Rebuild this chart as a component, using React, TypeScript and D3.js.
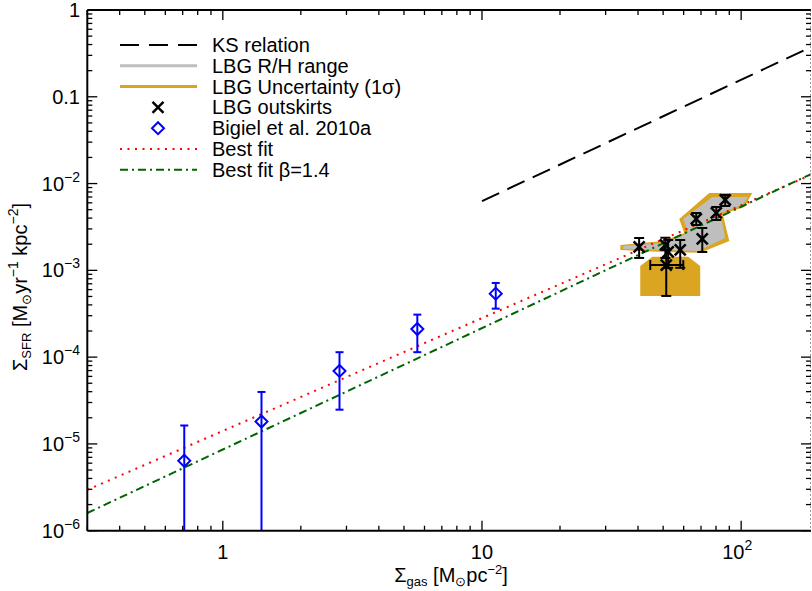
import React from 'react';
import * as d3 from 'd3';

const W = 812;
const H = 591;
const PLOT = { left: 87.3, right: 811, top: 10, bottom: 530.7 };

const xDomain = [0.3, 186];
const yDomain = [1e-6, 1];

const xTickValues = [1, 10, 100];
const xTickBase = ['1', '10', '10'];
const xTickSup = ['', '', '2'];
const yTickValues = [1, 0.1, 1e-2, 1e-3, 1e-4, 1e-5, 1e-6];
const yTickBase = ['1', '0.1', '10', '10', '10', '10', '10'];
const yTickSup = ['', '', '−2', '−3', '−4', '−5', '−6'];

// Bigiel et al. 2010a
const bigielGas = [0.71, 1.41, 2.82, 5.63, 11.3];
const bigielSfr = [6.4e-6, 1.81e-5, 6.93e-5, 2.11e-4, 5.39e-4];
const bigielHi = [1.63e-5, 3.97e-5, 1.14e-4, 3.09e-4, 7.16e-4];
const bigielLo = [1e-8, 1e-8, 2.48e-5, 1.14e-4, 3.62e-4];

// LBG outskirts
const lbgGas = [40.4, 51.0, 52.3, 58.2, 51.4, 70.8, 67.1, 80.2, 86.8];
const lbgSfr = [1.86e-3, 1.96e-3, 1.63e-3, 1.72e-3, 1.15e-3, 2.3e-3, 3.91e-3, 4.59e-3, 6.47e-3];
const lbgSfrHi = [2.36e-3, 2.37e-3, 2.24e-3, 2.24e-3, 1.72e-3, 3.08e-3, 4.59e-3, 5.37e-3, 7.39e-3];
const lbgSfrLo = [1.39e-3, 1.39e-3, 1.07e-3, 1.07e-3, 5.07e-4, 1.63e-3, 3.33e-3, 3.81e-3, 5.52e-3];
const lbgGasLo = [null, null, null, null, 44.6, null, null, null, null];
const lbgGasHi = [null, null, null, null, 59.8, null, null, null, null];

// LBG R/H range (grey) and uncertainty (gold) regions, [gas, sfr]
const rhRange: [number, number][] = [
  [35.1, 1.91e-3], [50.1, 2.07e-3], [62.5, 2.7e-3], [59.8, 3.91e-3], [77.4, 7.01e-3],
  [106.5, 7.01e-3], [101.0, 5.67e-3], [83.1, 4.59e-3], [86.8, 2.36e-3], [68.3, 1.67e-3],
  [50.1, 1.72e-3], [35.1, 1.76e-3],
];
const uncRange: [number, number][] = [
  [34.2, 1.96e-3], [50.1, 2.18e-3], [60.3, 2.7e-3], [57.7, 3.91e-3], [75.3, 7.79e-3],
  [110.4, 7.79e-3], [102.8, 5.37e-3], [84.9, 4.47e-3], [90.0, 2.18e-3], [69.5, 1.59e-3],
  [50.1, 1.63e-3], [34.2, 1.72e-3],
];
const uncBlock: [number, number][] = [
  [40.8, 1.12e-3], [45.4, 1.43e-3], [62.5, 1.43e-3], [69.5, 1.12e-3], [69.5, 5.07e-4], [40.8, 5.07e-4],
];

// relations (end points)
const ksLine: [number, number][] = [[10, 6.28e-3], [186, 0.374]];
const bestFit: [number, number][] = [[0.3, 2.95e-6], [186, 0.0126]];
const bestFit14: [number, number][] = [[0.3, 1.6e-6], [186, 0.01287]];

const legendLabels = [
  'KS relation',
  'LBG R/H range',
  'LBG Uncertainty (1σ)',
  'LBG outskirts',
  'Bigiel et al. 2010a',
  'Best fit',
  'Best fit β=1.4',
];

const FONT = "'Liberation Sans', Arial, Helvetica, sans-serif";
const GOLD = '#daa520';
const GREY = '#bebebe';
const GREEN = '#006400';

export default function App() {
  const x = d3.scaleLog().domain(xDomain).range([PLOT.left, PLOT.right]);
  const y = d3.scaleLog().domain(yDomain).range([PLOT.bottom, PLOT.top]);
  const line = d3.line<[number, number]>().x(d => x(d[0])).y(d => y(d[1]));

  const xMinor: number[] = [];
  for (let e = -1; e <= 2; e++) for (let m = 1; m <= 9; m++) {
    const v = m * Math.pow(10, e);
    if (v >= xDomain[0] && v <= xDomain[1] && m !== 1) xMinor.push(v);
  }
  const yMinor: number[] = [];
  for (let e = -6; e < 0; e++) for (let m = 2; m <= 9; m++) yMinor.push(m * Math.pow(10, e));

  const MAJ = 10, MIN = 5;
  const legendY = (i: number) => 45 + i * 20.8;

  const xMark = (cx: number, cy: number, s: number, key: string) => (
    <g key={key} stroke="black" strokeWidth={2.5}>
      <line x1={cx - s} y1={cy - s} x2={cx + s} y2={cy + s} />
      <line x1={cx - s} y1={cy + s} x2={cx + s} y2={cy - s} />
    </g>
  );
  const diamond = (cx: number, cy: number, key: string) => (
    <path key={key} d={`M${cx},${cy - 6}L${cx + 6},${cy}L${cx},${cy + 6}L${cx - 6},${cy}Z`} fill="none" stroke="#0000ff" strokeWidth={2} />
  );

  return (
    <svg width={W} height={H} style={{ position: 'absolute', left: 0, top: 0, background: 'white' }} fontFamily={FONT}>
      <defs>
        <clipPath id="plotclip">
          <rect x={PLOT.left} y={PLOT.top} width={PLOT.right - PLOT.left} height={PLOT.bottom - PLOT.top} />
        </clipPath>
      </defs>
      <rect x={0} y={0} width={W} height={H} fill="white" />

      <g clipPath="url(#plotclip)">
        {/* uncertainty + range regions */}
        <path d={line(uncBlock) + 'Z'} fill={GOLD} />
        <path d={line(uncRange) + 'Z'} fill={GOLD} />
        <path d={line(rhRange) + 'Z'} fill={GREY} />

        {/* relations */}
        <path d={line(ksLine)!} fill="none" stroke="black" strokeWidth={2} strokeDasharray="19,9" />
        <path d={line(bestFit)!} fill="none" stroke="#ff0000" strokeWidth={2} strokeDasharray="2,5.5" />
        <path d={line(bestFit14)!} fill="none" stroke={GREEN} strokeWidth={2} strokeDasharray="8,4,2,4" />

        {/* Bigiel points */}
        {bigielGas.map((g, i) => {
          const cx = x(g);
          const yHi = y(bigielHi[i]);
          const yLo = y(bigielLo[i]);
          return (
            <g key={'b' + i} stroke="#0000ff" strokeWidth={2}>
              <line x1={cx} x2={cx} y1={yHi} y2={yLo} />
              <line x1={cx - 4} x2={cx + 4} y1={yHi} y2={yHi} />
              <line x1={cx - 4} x2={cx + 4} y1={yLo} y2={yLo} />
            </g>
          );
        })}
        {bigielGas.map((g, i) => diamond(x(g), y(bigielSfr[i]), 'bd' + i))}

        {/* LBG outskirts */}
        {lbgGas.map((g, i) => {
          const cx = x(g);
          const cy = y(lbgSfr[i]);
          const yHi = y(lbgSfrHi[i]);
          const yLo = y(lbgSfrLo[i]);
          const gl = lbgGasLo[i];
          const gh = lbgGasHi[i];
          return (
            <g key={'l' + i}>
              <g stroke="black" strokeWidth={2}>
                <line x1={cx} x2={cx} y1={yHi} y2={yLo} />
                <line x1={cx - 5} x2={cx + 5} y1={yHi} y2={yHi} />
                <line x1={cx - 5} x2={cx + 5} y1={yLo} y2={yLo} />
                {gl != null && gh != null && (
                  <>
                    <line x1={x(gl)} x2={x(gh)} y1={cy} y2={cy} />
                    <line x1={x(gl)} x2={x(gl)} y1={cy - 5} y2={cy + 5} />
                    <line x1={x(gh)} x2={x(gh)} y1={cy - 5} y2={cy + 5} />
                  </>
                )}
              </g>
              {xMark(cx, cy, 5.5, 'lx' + i)}
            </g>
          );
        })}
      </g>

      {/* axes frame */}
      <g stroke="black" strokeWidth={2} fill="none">
        <line x1={PLOT.left} x2={PLOT.right} y1={PLOT.bottom} y2={PLOT.bottom} />
        <line x1={PLOT.left} x2={PLOT.right} y1={PLOT.top} y2={PLOT.top} />
        <line x1={PLOT.left} x2={PLOT.left} y1={PLOT.top} y2={PLOT.bottom} />
      </g>
      <line x1={PLOT.right - 0.5} x2={PLOT.right - 0.5} y1={PLOT.top} y2={PLOT.bottom} stroke="#999" strokeWidth={1} strokeDasharray="2,2" />

      {/* ticks */}
      <g stroke="black" strokeWidth={1.3}>
        {xTickValues.map(v => (
          <g key={'xt' + v}>
            <line x1={x(v)} x2={x(v)} y1={PLOT.bottom} y2={PLOT.bottom - MAJ} />
            <line x1={x(v)} x2={x(v)} y1={PLOT.top} y2={PLOT.top + MAJ} />
          </g>
        ))}
        {xMinor.map(v => (
          <g key={'xm' + v}>
            <line x1={x(v)} x2={x(v)} y1={PLOT.bottom} y2={PLOT.bottom - MIN} />
            <line x1={x(v)} x2={x(v)} y1={PLOT.top} y2={PLOT.top + MIN} />
          </g>
        ))}
        {yTickValues.map(v => (
          <g key={'yt' + v}>
            <line x1={PLOT.left} x2={PLOT.left + MAJ} y1={y(v)} y2={y(v)} />
            <line x1={PLOT.right} x2={PLOT.right - MAJ} y1={y(v)} y2={y(v)} />
          </g>
        ))}
        {yMinor.map(v => (
          <g key={'ym' + v}>
            <line x1={PLOT.left} x2={PLOT.left + MIN} y1={y(v)} y2={y(v)} />
            <line x1={PLOT.right} x2={PLOT.right - MIN} y1={y(v)} y2={y(v)} />
          </g>
        ))}
      </g>

      {/* tick labels */}
      <g fontSize={20} fill="black">
        {xTickValues.map((v, i) => (
          <text key={'xl' + v} x={x(v) - (xTickSup[i] ? 4 : 0)} y={559} textAnchor="middle">
            {xTickBase[i]}
            {xTickSup[i] && <tspan fontSize={14} dy={-9}>{xTickSup[i]}</tspan>}
          </text>
        ))}
        {yTickValues.map((v, i) => (
          <text key={'yl' + v} x={80} y={y(v) + 7} textAnchor="end">
            {yTickBase[i]}
            {yTickSup[i] && <tspan fontSize={14} dy={-9}>{yTickSup[i]}</tspan>}
          </text>
        ))}
      </g>

      {/* axis titles */}
      <text x={451} y={582} textAnchor="middle" fontSize={20}>
        Σ<tspan fontSize={13} dy={4}>gas</tspan>
        <tspan dy={-4}> [M</tspan>
        <tspan fontSize={13} dy={4}>⊙</tspan>
        <tspan dy={-4}>pc</tspan>
        <tspan fontSize={13} dy={-8}>−2</tspan>
        <tspan dy={8}>]</tspan>
      </text>
      <text transform={`translate(27,${287}) rotate(-90)`} textAnchor="middle" fontSize={20}>
        Σ<tspan fontSize={13} dy={4}>SFR</tspan>
        <tspan dy={-4}> [M</tspan>
        <tspan fontSize={13} dy={4}>⊙</tspan>
        <tspan dy={-4}>yr</tspan>
        <tspan fontSize={14} dy={-9}>−1</tspan>
        <tspan dy={9}> kpc</tspan>
        <tspan fontSize={14} dy={-9}>−2</tspan>
        <tspan dy={9}>]</tspan>
      </text>

      {/* legend */}
      <g>
        <line x1={120} x2={197} y1={legendY(0)} y2={legendY(0)} stroke="black" strokeWidth={2} strokeDasharray="19,10" />
        <line x1={120} x2={197} y1={legendY(1)} y2={legendY(1)} stroke={GREY} strokeWidth={3} />
        <line x1={120} x2={197} y1={legendY(2)} y2={legendY(2)} stroke={GOLD} strokeWidth={3} />
        {xMark(158, legendY(3), 5.5, 'legx')}
        {diamond(158, legendY(4), 'legd')}
        <line x1={120} x2={197} y1={legendY(5)} y2={legendY(5)} stroke="#ff0000" strokeWidth={2} strokeDasharray="2,5.5" />
        <line x1={120} x2={197} y1={legendY(6)} y2={legendY(6)} stroke={GREEN} strokeWidth={2} strokeDasharray="8,4,2,4" />
        {legendLabels.map((t, i) => (
          <text key={'lg' + i} x={212} y={legendY(i) + 7} fontSize={20}>{t}</text>
        ))}
      </g>
    </svg>
  );
}
